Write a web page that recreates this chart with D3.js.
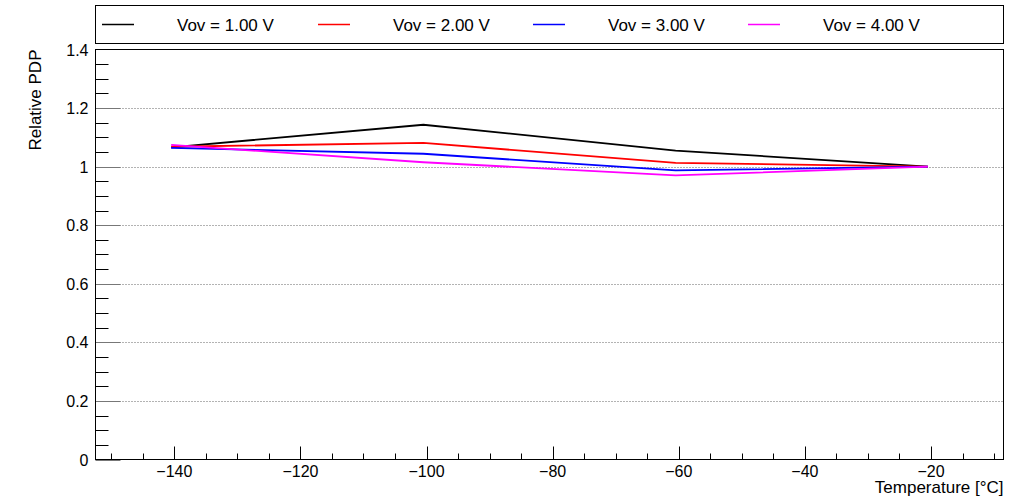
<!DOCTYPE html>
<html>
<head>
<meta charset="utf-8">
<script src="https://cdn.jsdelivr.net/npm/d3@7"></script>
<style>
  body { margin: 0; background: #fff; }
  svg { display: block; font-family: "Liberation Sans", Arial, sans-serif; }
</style>
</head>
<body>
<svg id="chart" width="1023" height="499"></svg>
<script>
// temperatures of the measurements [°C]
const temps = [-140.5, -100.5, -60.5, -20.5]
// relative PDP per overvoltage (normalised to -20 °C)
const vov1 = [1.066, 1.143, 1.055, 1.0]
const vov2 = [1.068, 1.081, 1.013, 1.0]
const vov3 = [1.064, 1.044, 0.987, 1.0]
const vov4 = [1.074, 1.015, 0.970, 1.0]
const seriesNames = ['Vov = 1.00 V', 'Vov = 2.00 V', 'Vov = 3.00 V', 'Vov = 4.00 V']
const seriesColors = ['#000000', '#ff0000', '#0000ff', '#ff00ff']
const xTicks = [-140, -120, -100, -80, -60, -40, -20]
const yTicks = [0, 0.2, 0.4, 0.6, 0.8, 1, 1.2, 1.4]

const allSeries = [vov1, vov2, vov3, vov4]

var svg = d3.select('#chart')
var fLeft = 95.5, fRight = 1003.5, fTop = 49.5, fBottom = 459.5

var x = d3.scaleLinear().domain([-152.5, -8.5]).range([fLeft, fRight])
var y = d3.scaleLinear().domain([0, 1.4]).range([fBottom, fTop])

// grid lines
svg.append('g')
  .selectAll('line')
  .data(yTicks.filter(d => d > 0 && d < 1.4))
  .enter().append('line')
  .attr('x1', fLeft).attr('x2', fRight)
  .attr('y1', d => Math.round(y(d)) + 0.5)
  .attr('y2', d => Math.round(y(d)) + 0.5)
  .attr('stroke', '#666')
  .attr('stroke-width', 1)
  .attr('stroke-dasharray', '1,2')

// x axis (ticks inside, upward)
var xMinor = d3.range(-150, -8, 5)
svg.append('g')
  .selectAll('line')
  .data(xMinor)
  .enter().append('line')
  .attr('x1', d => Math.round(x(d)) + 0.5)
  .attr('x2', d => Math.round(x(d)) + 0.5)
  .attr('y1', fBottom)
  .attr('y2', d => fBottom - (xTicks.indexOf(d) >= 0 ? 13 : 6))
  .attr('stroke', '#000')

svg.append('g')
  .selectAll('text')
  .data(xTicks)
  .enter().append('text')
  .attr('x', d => x(d))
  .attr('y', fBottom + 17)
  .attr('text-anchor', 'middle')
  .attr('font-size', 16)
  .text(d => d3.format('d')(d).replace('-', '\u2212'))

// y axis (ticks inside, rightward)
var yMinor = d3.range(0, 1.401, 0.05)
svg.append('g')
  .selectAll('line')
  .data(yMinor)
  .enter().append('line')
  .attr('y1', d => Math.round(y(d)) + 0.5)
  .attr('y2', d => Math.round(y(d)) + 0.5)
  .attr('x1', fLeft)
  .attr('x2', (d, i) => fLeft + (i % 4 === 0 ? 25 : 13))
  .attr('stroke', (d, i) => i % 4 === 0 ? '#777' : '#000')

svg.append('g')
  .selectAll('text')
  .data(yTicks)
  .enter().append('text')
  .attr('x', fLeft - 7)
  .attr('y', d => y(d) + 6)
  .attr('text-anchor', 'end')
  .attr('font-size', 16)
  .text(d => d3.format('~g')(d))

// frame
svg.append('rect')
  .attr('x', fLeft).attr('y', fTop)
  .attr('width', fRight - fLeft).attr('height', fBottom - fTop)
  .attr('fill', 'none').attr('stroke', '#000')

// axis titles
svg.append('text')
  .attr('x', fRight)
  .attr('y', 493)
  .attr('text-anchor', 'end')
  .attr('font-size', 17)
  .text('Temperature [°C]')

svg.append('text')
  .attr('transform', 'translate(41,' + fTop + ') rotate(-90)')
  .attr('text-anchor', 'end')
  .attr('font-size', 17)
  .text('Relative PDP')

// series
var line = d3.line()
  .x((d, i) => x(temps[i]))
  .y(d => y(d))

svg.append('g')
  .selectAll('path')
  .data(allSeries)
  .enter().append('path')
  .attr('d', line)
  .attr('fill', 'none')
  .attr('stroke', (d, i) => seriesColors[i])
  .attr('stroke-width', 1.8)

// legend
svg.append('rect')
  .attr('x', fLeft).attr('y', 5.5)
  .attr('width', fRight - fLeft).attr('height', 38)
  .attr('fill', '#fff').attr('stroke', '#000')

var legendLineX = [102, 318, 533, 748]
var lg = svg.append('g')
  .selectAll('g')
  .data(seriesNames)
  .enter().append('g')
  .attr('transform', (d, i) => 'translate(' + legendLineX[i] + ',24.5)')

lg.append('line')
  .attr('x1', 0).attr('x2', 32)
  .attr('stroke', (d, i) => seriesColors[i])
  .attr('stroke-width', 1.5)

lg.append('text')
  .attr('x', 75)
  .attr('y', 6)
  .attr('font-size', 17)
  .text(d => d)
</script>
</body>
</html>
